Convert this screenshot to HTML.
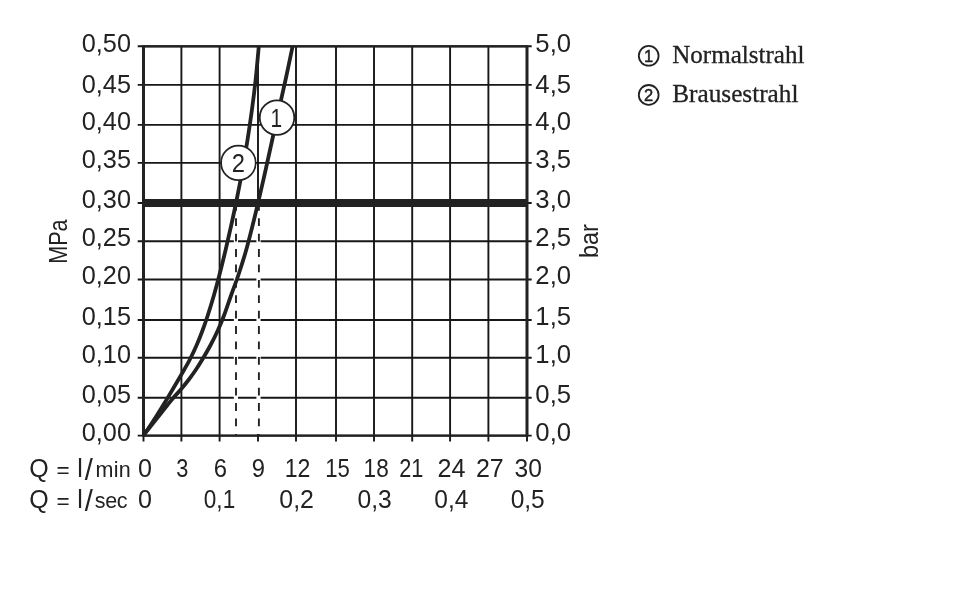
<!DOCTYPE html>
<html lang="de"><head><meta charset="utf-8"><title>Durchflussdiagramm</title>
<style>html,body{margin:0;padding:0;background:#fff}body{width:960px;height:612px;overflow:hidden}svg{display:block}text{font-kerning:none}.s{font-family:"Liberation Sans",sans-serif;font-size:25px;fill:#222223}.t{font-family:"Liberation Serif",serif;font-size:25px;fill:#222223;stroke:#222223;stroke-width:.3px}</style></head><body>
<svg width="960" height="612" viewBox="0 0 960 612">
<rect width="960" height="612" fill="#fff"/>
<path d="M143.5 46.3 V441.4 M181.4 46.3 V441.4 M219.6 46.3 V441.4 M258 46.3 V441.4 M296 46.3 V441.4 M336 46.3 V441.4 M374 46.3 V441.4 M412.2 46.3 V441.4 M450.1 46.3 V441.4 M488.4 46.3 V441.4 M527 46.3 V441.4 M137.7 46.3 H531.7 M137.7 84.9 H531.7 M137.7 124.9 H531.7 M137.7 162.9 H531.7 M137.7 203 H531.7 M137.7 241.2 H531.7 M137.7 279.5 H531.7 M137.7 320 H531.7 M137.7 357.8 H531.7 M137.7 397.8 H531.7 M137.7 435.6 H531.7" fill="none" stroke="#171717" stroke-width="1.9"/>
<path d="M235.9 206 V434 M258.5 206 V434" fill="none" stroke="#fff" stroke-width="4.2"/>
<path d="M236 202.9 V435.5 M258.9 202.9 V435.5" fill="none" stroke="#222223" stroke-width="1.9" stroke-dasharray="7.8 7.6"/>
<path d="M143.5 45.15 V436.75 M527 45.15 V436.75" fill="none" stroke="#222223" stroke-width="3"/>
<path d="M143.5 46.3 H527 M143.5 435.6 H527" fill="none" stroke="#222223" stroke-width="2.3"/>
<rect x="143.5" y="199" width="383.5" height="8" fill="#222223"/>
<path d="M143.4 435.4 C144.6 433.67 148.32 428.4 150.6 425 C152.88 421.6 154.98 418.33 157.1 415 C159.22 411.67 161.55 407.85 163.3 405 C165.05 402.15 166.1 400.4 167.6 397.9 C169.1 395.4 170.53 392.98 172.3 390 C174.07 387.02 176.25 383.33 178.2 380 C180.15 376.67 182.1 373.33 184 370 C185.9 366.67 187.48 364.17 189.6 360 C191.72 355.83 194.52 350 196.7 345 C198.88 340 200.83 335 202.7 330 C204.57 325 206.02 320.83 207.9 315 C209.78 309.17 212.08 301.67 214 295 C215.92 288.33 217.47 282.5 219.4 275 C221.33 267.5 223.62 258.33 225.6 250 C227.58 241.67 229.47 233.33 231.3 225 C233.13 216.67 234.75 209.17 236.6 200 C238.45 190.83 240.58 180 242.4 170 C244.22 160 245.92 150 247.5 140 C249.08 130 250.55 120 251.9 110 C253.25 100 254.45 90.6 255.6 80 C256.75 69.4 258.27 52 258.8 46.4" fill="none" stroke="#222223" stroke-width="3.8"/>
<path d="M143.4 435.4 C144.77 433.67 148.9 428.4 151.6 425 C154.3 421.6 156.95 418.33 159.6 415 C162.25 411.67 165.23 407.85 167.5 405 C169.77 402.15 171.05 400.4 173.2 397.9 C175.35 395.4 177.85 392.98 180.4 390 C182.95 387.02 185.95 383.33 188.5 380 C191.05 376.67 193.45 373.33 195.7 370 C197.95 366.67 199.52 364.17 202 360 C204.48 355.83 207.93 350 210.6 345 C213.27 340 215.73 335 218 330 C220.27 325 222 320.83 224.2 315 C226.4 309.17 228.83 301.67 231.2 295 C233.57 288.33 235.9 282.5 238.4 275 C240.9 267.5 243.82 258.33 246.2 250 C248.58 241.67 250.62 233.33 252.7 225 C254.78 216.67 256.55 209.17 258.7 200 C260.85 190.83 263.35 180 265.6 170 C267.85 160 270 150 272.2 140 C274.4 130 276.58 120 278.8 110 C281.02 100 283.2 90.6 285.5 80 C287.8 69.4 291.42 52 292.6 46.4" fill="none" stroke="#222223" stroke-width="3.8"/>
<circle cx="277" cy="117.6" r="17.3" fill="#fff" stroke="#222223" stroke-width="1.8"/>
<circle cx="238.4" cy="162.9" r="17.3" fill="#fff" stroke="#222223" stroke-width="1.7"/>
<text class="s" x="270.41" y="126.6" textLength="11.61" lengthAdjust="spacingAndGlyphs">1</text>
<text class="s" x="231.81" y="171.5" textLength="13.18" lengthAdjust="spacingAndGlyphs">2</text>
<text class="s" x="81.81" y="51.55" textLength="49.17" lengthAdjust="spacingAndGlyphs">0,50</text>
<text class="s" x="535.37" y="51.55" textLength="35.73" lengthAdjust="spacingAndGlyphs">5,0</text>
<text class="s" x="81.81" y="92.55" textLength="49.17" lengthAdjust="spacingAndGlyphs">0,45</text>
<text class="s" x="535.37" y="92.55" textLength="35.73" lengthAdjust="spacingAndGlyphs">4,5</text>
<text class="s" x="81.81" y="130.15" textLength="49.17" lengthAdjust="spacingAndGlyphs">0,40</text>
<text class="s" x="535.37" y="130.15" textLength="35.73" lengthAdjust="spacingAndGlyphs">4,0</text>
<text class="s" x="81.81" y="168.15" textLength="49.17" lengthAdjust="spacingAndGlyphs">0,35</text>
<text class="s" x="535.37" y="168.15" textLength="35.73" lengthAdjust="spacingAndGlyphs">3,5</text>
<text class="s" x="81.81" y="208.25" textLength="49.17" lengthAdjust="spacingAndGlyphs">0,30</text>
<text class="s" x="535.37" y="208.25" textLength="35.73" lengthAdjust="spacingAndGlyphs">3,0</text>
<text class="s" x="81.81" y="246.45" textLength="49.17" lengthAdjust="spacingAndGlyphs">0,25</text>
<text class="s" x="535.37" y="246.45" textLength="35.73" lengthAdjust="spacingAndGlyphs">2,5</text>
<text class="s" x="81.81" y="284.25" textLength="49.17" lengthAdjust="spacingAndGlyphs">0,20</text>
<text class="s" x="535.37" y="284.25" textLength="35.73" lengthAdjust="spacingAndGlyphs">2,0</text>
<text class="s" x="81.81" y="324.55" textLength="49.17" lengthAdjust="spacingAndGlyphs">0,15</text>
<text class="s" x="535.37" y="324.55" textLength="35.73" lengthAdjust="spacingAndGlyphs">1,5</text>
<text class="s" x="81.81" y="362.55" textLength="49.17" lengthAdjust="spacingAndGlyphs">0,10</text>
<text class="s" x="535.37" y="362.55" textLength="35.73" lengthAdjust="spacingAndGlyphs">1,0</text>
<text class="s" x="81.81" y="402.55" textLength="49.17" lengthAdjust="spacingAndGlyphs">0,05</text>
<text class="s" x="535.37" y="402.55" textLength="35.73" lengthAdjust="spacingAndGlyphs">0,5</text>
<text class="s" x="81.81" y="440.85" textLength="49.17" lengthAdjust="spacingAndGlyphs">0,00</text>
<text class="s" x="535.37" y="440.85" textLength="35.73" lengthAdjust="spacingAndGlyphs">0,0</text>
<text class="s" y="476.6" style="white-space:pre"><tspan x="29.13 48.58">Q </tspan><tspan x="56.44 69.58" dy="1.2" style="font-size:22.5px">= </tspan><tspan x="77.22" dy="-1.2">l</tspan><tspan x="84.77" dy="3.4" style="font-size:29px">/</tspan><tspan x="95.39 113.72 118.81" dy="-3.4" style="font-size:21.5px">min</tspan></text>
<text class="s" y="507.5" style="white-space:pre"><tspan x="29.13 48.58">Q </tspan><tspan x="56.44 69.58" dy="1.2" style="font-size:22.5px">= </tspan><tspan x="77.22" dy="-1.2">l</tspan><tspan x="84.77" dy="3.4" style="font-size:29px">/</tspan><tspan x="94.71 105.29 116.65" dy="-3.4" style="font-size:21.5px">sec</tspan></text>
<text class="s" x="137.92" y="476.6" textLength="13.96" lengthAdjust="spacingAndGlyphs">0</text>
<text class="s" x="176.37" y="476.6" textLength="12.08" lengthAdjust="spacingAndGlyphs">3</text>
<text class="s" x="213.79" y="476.6" textLength="13.26" lengthAdjust="spacingAndGlyphs">6</text>
<text class="s" x="251.68" y="476.6" textLength="13.24" lengthAdjust="spacingAndGlyphs">9</text>
<text class="s" x="437.43" y="476.6" textLength="28" lengthAdjust="spacingAndGlyphs">24</text>
<text class="s" x="475.94" y="476.6" textLength="27.82" lengthAdjust="spacingAndGlyphs">27</text>
<text class="s" x="514.56" y="476.6" textLength="27.4" lengthAdjust="spacingAndGlyphs">30</text>
<text class="s" x="284.64" y="476.6" textLength="25.72" lengthAdjust="spacingAndGlyphs">12</text>
<text class="s" x="325.31" y="476.6" textLength="24.61" lengthAdjust="spacingAndGlyphs">15</text>
<text class="s" x="363.58" y="476.6" textLength="25.1" lengthAdjust="spacingAndGlyphs">18</text>
<text class="s" x="399.31" y="476.6" textLength="24.15" lengthAdjust="spacingAndGlyphs">21</text>
<text class="s" x="137.92" y="507.5" textLength="13.96" lengthAdjust="spacingAndGlyphs">0</text>
<text class="s" x="203.82" y="507.5" textLength="31.38" lengthAdjust="spacingAndGlyphs">0,1</text>
<text class="s" x="279.33" y="507.5" textLength="34.63" lengthAdjust="spacingAndGlyphs">0,2</text>
<text class="s" x="357.54" y="507.5" textLength="34.24" lengthAdjust="spacingAndGlyphs">0,3</text>
<text class="s" x="434.34" y="507.5" textLength="34.08" lengthAdjust="spacingAndGlyphs">0,4</text>
<text class="s" x="510.64" y="507.5" textLength="34.09" lengthAdjust="spacingAndGlyphs">0,5</text>
<text class="s" transform="translate(67.4 263.77) rotate(-90)" textLength="44.37" lengthAdjust="spacingAndGlyphs">MPa</text>
<text class="s" transform="translate(597.8 258.01) rotate(-90)" textLength="33.9" lengthAdjust="spacingAndGlyphs">bar</text>
<circle cx="648.7" cy="55.8" r="9.9" fill="none" stroke="#222223" stroke-width="1.8"/>
<text class="s" x="648.7" y="61.6" text-anchor="middle" style="font-size:16.5px;stroke:#222223;stroke-width:.45px">1</text>
<text class="t" x="672.28" y="63.1" textLength="132.12" lengthAdjust="spacingAndGlyphs">Normalstrahl</text>
<circle cx="648.7" cy="94.9" r="9.9" fill="none" stroke="#222223" stroke-width="1.8"/>
<text class="s" x="648.7" y="100.7" text-anchor="middle" style="font-size:16.5px;stroke:#222223;stroke-width:.45px">2</text>
<text class="t" x="672.27" y="101.6" textLength="126.13" lengthAdjust="spacingAndGlyphs">Brausestrahl</text>
</svg></body></html>
